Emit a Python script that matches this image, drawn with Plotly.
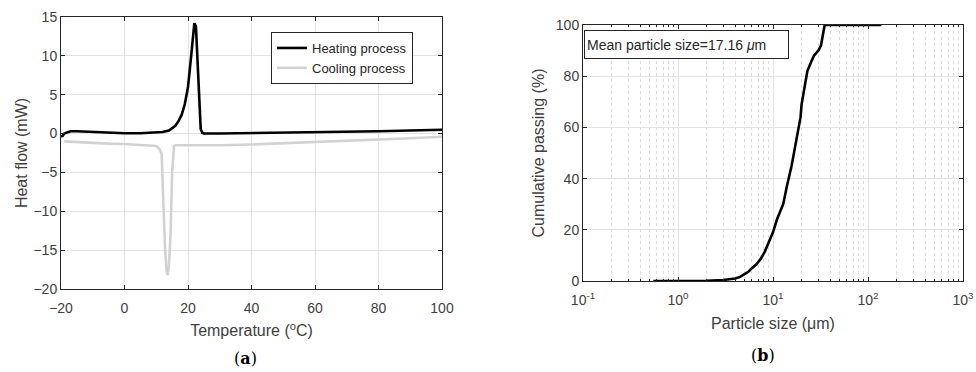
import plotly.graph_objects as go

# ---- data (a) DSC
heat_T = [-20, -19.5, -19, -18, -17, -15, -10, -5, 0, 5, 10, 12, 14, 16, 17, 18, 19, 20, 21, 21.5, 22, 22.5, 23, 23.5, 24, 24.5, 25, 30, 40, 50, 60, 70, 80, 90, 100]
heat_Q = [-0.4, -0.3, 0.0, 0.2, 0.3, 0.3, 0.2, 0.1, 0.05, 0.05, 0.1, 0.2, 0.4, 1.0, 1.6, 2.4, 3.8, 6.0, 10.0, 12.5, 14.2, 13.8, 9.5, 3.5, 0.6, 0.1, 0.0, 0.0, 0.05, 0.1, 0.15, 0.2, 0.3, 0.4, 0.5]
cool_T = [-19, -15, -10, -5, 0, 5, 10, 11, 11.7, 12.2, 12.8, 13.3, 13.6, 14.0, 14.5, 15.0, 15.3, 15.6, 16, 20, 30, 40, 50, 60, 70, 80, 90, 100]
cool_Q = [-1.0, -1.1, -1.2, -1.3, -1.35, -1.45, -1.6, -2.0, -2.6, -8.5, -15.0, -17.8, -18.2, -17.0, -13.0, -5.0, -2.2, -1.6, -1.5, -1.5, -1.5, -1.4, -1.25, -1.1, -0.95, -0.8, -0.6, -0.4]

# ---- data (b) particle size distribution
psize = [0.55, 1, 2, 3, 4, 4.5, 5, 5.5, 6, 6.7, 7.5, 8.2, 9, 10, 11, 12.8, 14, 15.7, 17, 18.4, 19.5, 20, 21.7, 23, 25.5, 27, 30, 32, 33.8, 35, 138]
passing = [0, 0, 0.1, 0.4, 1.0, 1.6, 2.5, 3.6, 5.0, 6.5, 8.9, 11.5, 15, 19, 24, 30, 37, 45, 52, 59, 64, 69, 77, 82, 86, 88, 90, 92, 97, 100, 100]

xt_a = [-20, 0, 20, 40, 60, 80, 100]
yt_a = [-20, -15, -10, -5, 0, 5, 10, 15]
xt_b = [0.1, 1, 10, 100, 1000]
xt_b_text = ["10<sup>-1</sup>", "10<sup>0</sup>", "10<sup>1</sup>", "10<sup>2</sup>", "10<sup>3</sup>"]
yt_b = [0, 20, 40, 60, 80, 100]

W, H = 976, 372
FONT = "Liberation Sans, Arial, sans-serif"
TXT = "#404040"
AX = "#262626"
GRID = "#e3e3e3"

fig = go.Figure()
fig.add_trace(go.Scatter(x=heat_T, y=heat_Q, mode="lines", name="Heating process",
                         line=dict(color="black", width=2.6), xaxis="x", yaxis="y"))
fig.add_trace(go.Scatter(x=cool_T, y=cool_Q, mode="lines", name="Cooling process",
                         line=dict(color="#d2d2d2", width=2.6), xaxis="x", yaxis="y"))
fig.add_trace(go.Scatter(x=psize, y=passing, mode="lines", showlegend=False,
                         line=dict(color="black", width=2.6), xaxis="x2", yaxis="y2"))

def px_dom(a, b, total):
    return [a / total, b / total]

common = dict(showline=True, linecolor=AX, linewidth=1, mirror="ticks", ticks="inside",
              ticklen=4, tickcolor=AX, showgrid=True, gridcolor=GRID, zeroline=False,
              automargin=False,
              tickfont=dict(family=FONT, size=14, color=TXT),
              title_font=dict(family=FONT, size=16, color=TXT))

fig.update_layout(
    width=W, height=H, margin=dict(l=0, r=0, t=0, b=0, autoexpand=False),
    paper_bgcolor="white", plot_bgcolor="white",
    xaxis=dict(domain=px_dom(61, 442, W), range=[-20, 100], tickvals=xt_a, anchor="y",
               ticklabelstandoff=6,
               title=dict(text="Temperature (<sup>o</sup>C)", standoff=10), **common),
    yaxis=dict(domain=[1 - 289 / H, 1 - 17 / H], range=[-20, 15], tickvals=yt_a, anchor="x",
               title=dict(text="Heat flow (mW)", standoff=1), **common),
    xaxis2=dict(domain=px_dom(583, 963, W), type="log", range=[-1, 3], tickvals=xt_b,
                ticktext=xt_b_text, anchor="y2", ticklabelstandoff=6,
                minor=dict(dtick="D1", ticks="inside", ticklen=2, tickcolor=AX, showgrid=True,
                           gridcolor="#dcdcdc", griddash="dot"),
                title=dict(text="Particle size (\u03bcm)", standoff=11), **common),
    yaxis2=dict(domain=[1 - 281 / H, 1 - 25 / H], range=[0, 100], tickvals=yt_b, anchor="x2",
                title=dict(text="Cumulative passing (%)", standoff=7), **common),
    legend=dict(x=271 / W, y=1 - 32 / H, xanchor="left", yanchor="top",
                bordercolor=AX, borderwidth=1, bgcolor="white",
                font=dict(family=FONT, size=13, color=AX), tracegroupgap=0),
    showlegend=True,
)

fig.add_annotation(xref="paper", yref="paper", x=584 / W, y=1 - 30 / H, xanchor="left", yanchor="top",
                   text="Mean particle size=17.16 <i>\u03bc</i>m", showarrow=False, align="left",
                   width=199, height=23, bordercolor=AX, borderwidth=1, borderpad=2, bgcolor="white",
                   font=dict(family=FONT, size=14, color=AX))

for lab, cx, cy in [("(<b>a</b>)", 245, 358), ("(<b>b</b>)", 763, 355)]:
    fig.add_annotation(xref="paper", yref="paper", x=cx / W, y=1 - cy / H, xanchor="center",
                       yanchor="middle", text=lab, showarrow=False,
                       font=dict(family="DejaVu Serif, serif", size=16, color="black"))

fig.write_html("out.html")
